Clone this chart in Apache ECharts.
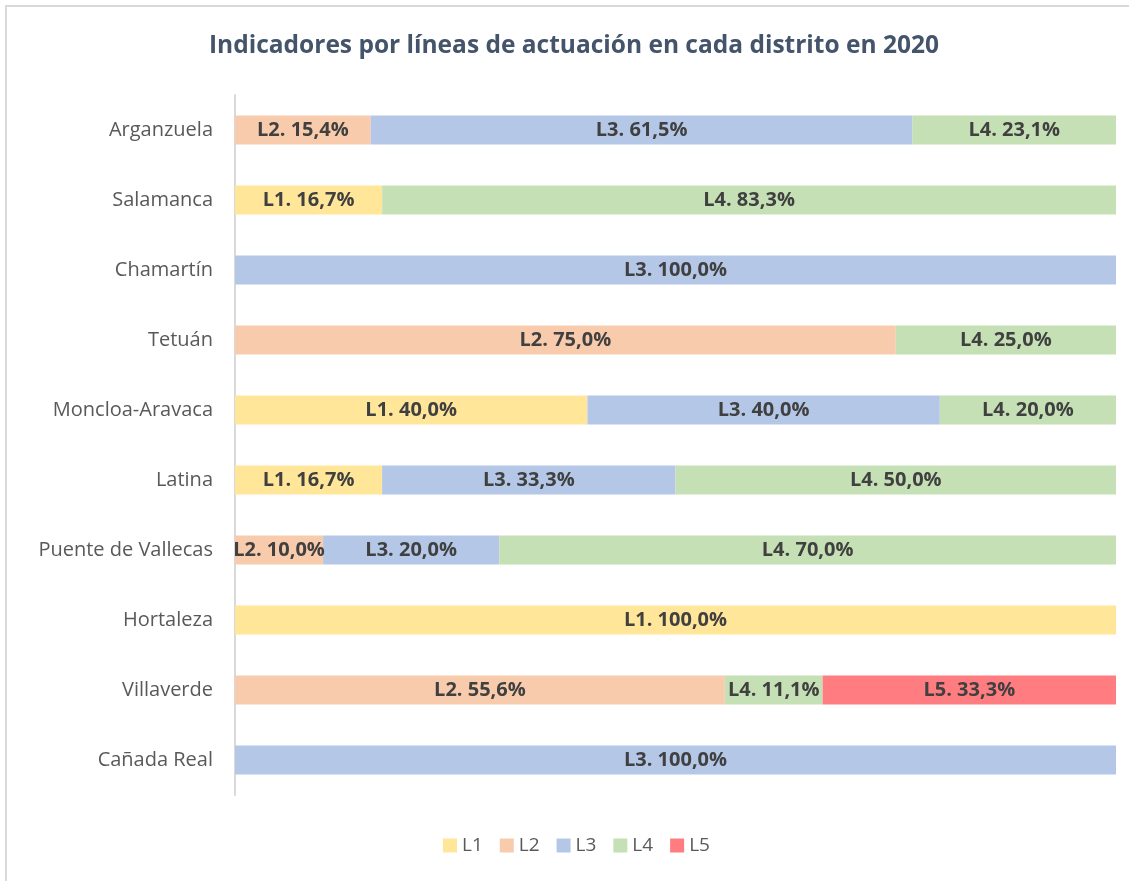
<!DOCTYPE html>
<html>
<head>
<meta charset="utf-8">
<script src="https://cdn.jsdelivr.net/npm/echarts@6/dist/echarts.min.js"></script>
<style>
  html, body { margin: 0; padding: 0; background: #fff; }
  #main { width: 1129px; height: 881px; }
</style>
</head>
<body>
<div id="main"></div>
<script>
// distritos, de arriba a abajo
let distritos = ["Arganzuela", "Salamanca", "Chamartín", "Tetuán", "Moncloa-Aravaca",
  "Latina", "Puente de Vallecas", "Hortaleza", "Villaverde", "Cañada Real"];

let L1 = [null, 16.7, null, null, 40.0, 16.7, null, 100.0, null, null];
let L2 = [15.4, null, null, 75.0, null, null, 10.0, null, 55.6, null];
let L3 = [61.5, null, 100.0, null, 40.0, 33.3, 20.0, null, null, 100.0];
let L4 = [23.1, 83.3, null, 25.0, 20.0, 50.0, 70.0, null, 11.1, null];
let L5 = [null, null, null, null, null, null, null, null, 33.3, null];

let nombres = ["L1", "L2", "L3", "L4", "L5"];
let colores = ["#FFE699", "#F8CBAD", "#B4C7E7", "#C5E0B4", "#FF7C80"];
let valores = [L1, L2, L3, L4, L5];

let myChart = document.getElementById("main");
let initChart = echarts.init(myChart, null, { renderer: "canvas" });

let fuente = "'Open Sans', 'Noto Sans', sans-serif";

let series = nombres.map((n, i) => ({
  name: n,
  type: "bar",
  stack: "total",
  barWidth: 29,
  data: valores[i],
  itemStyle: { color: colores[i] },
  label: {
    show: true,
    position: "inside",
    color: "#404040",
    fontWeight: "bold",
    fontSize: 20,
    fontFamily: fuente,
    formatter: (p) => p.seriesName + ". " + p.value.toFixed(1).replace(".", ",") + "%",
  },
}));

let option = {
  animation: false,
  title: {
    text: "Indicadores por líneas de actuación en cada distrito en 2020",
    left: 204,
    top: 29,
    textStyle: { color: "#44546A", fontSize: 24.5, fontWeight: "bold", fontFamily: fuente },
  },
  graphic: [{
    type: "rect",
    shape: { x: 6, y: 6, width: 1200, height: 1000 },
    style: { fill: "none", stroke: "#D9D9D9", lineWidth: 2 },
    silent: true,
  }],
  legend: {
    bottom: 21,
    left: 438,
    icon: "rect",
    itemWidth: 14,
    itemHeight: 14,
    itemGap: 17,
    textStyle: { color: "#595959", fontSize: 19, fontFamily: fuente },
    data: nombres,
  },
  grid: { left: 235, right: 13, top: 95, bottom: 86, containLabel: false },
  xAxis: {
    type: "value",
    min: 0,
    max: 100,
    show: false,
  },
  yAxis: {
    type: "category",
    inverse: true,
    data: distritos,
    axisLine: { show: true, lineStyle: { color: "#D9D9D9", width: 2 } },
    axisTick: { show: false },
    axisLabel: { color: "#595959", fontSize: 20, fontFamily: fuente, margin: 22 },
  },
  series: series,
};

initChart.setOption(option);
</script>
</body>
</html>
